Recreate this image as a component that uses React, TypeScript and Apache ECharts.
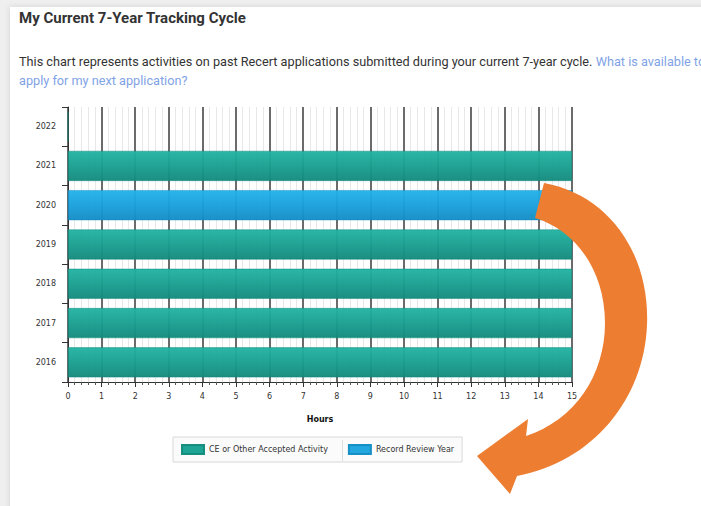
import React, { useEffect, useRef } from "react";
import * as echarts from "echarts";

const years = ["2016", "2017", "2018", "2019", "2020", "2021", "2022"];
const ceHours: (number | string)[] = [15, 15, 15, 15, "-", 15, 0];
const reviewHours: (number | string)[] = ["-", "-", "-", "-", 15, "-", "-"];
const seriesNames = ["CE or Other Accepted Activity", "Record Review Year"];
const titleText = "My Current 7-Year Tracking Cycle";
const descText =
  "This chart represents activities on past Recert applications submitted during your current 7-year cycle.";
const linkText1 = "What is available to";
const linkText2 = "apply for my next application?";

const arrowPath =
  "M 544 183 C 610 195 650 255 647 325 C 644 400 592 462 517 476 L 510 494 L 477 456 L 528 419 L 526 436 C 575 420 605 375 605 323 C 605 270 575 230 535 218 Z";

let registered = false;

export default function App() {
  const ref = useRef<HTMLDivElement>(null);
  useEffect(() => {
    if (!ref.current) return;
    if (!registered) {
      echarts.graphic.registerShape("logo", echarts.graphic.extendPath(arrowPath, {}) as any);
      registered = true;
    }
    const chart = echarts.init(ref.current, null, { renderer: "svg" });
    const teal = new echarts.graphic.LinearGradient(0, 0, 0, 1, [
      { offset: 0, color: "#22b3a3" },
      { offset: 0.5, color: "#199f90" },
      { offset: 1, color: "#128a7c" },
    ]);
    const blue = new echarts.graphic.LinearGradient(0, 0, 0, 1, [
      { offset: 0, color: "#22b2ea" },
      { offset: 0.5, color: "#19a0dc" },
      { offset: 1, color: "#138cc4" },
    ]);
    chart.setOption({
      animation: false,
      backgroundColor: "#efefef",
      graphic: [
        {
          type: "rect",
          shape: { x: 10, y: 7, width: 700, height: 510 },
          style: { fill: "#ffffff", shadowBlur: 6, shadowColor: "rgba(0,0,0,0.12)" },
          z: -10,
        },
        {
          type: "text",
          left: 19,
          top: 10,
          style: { text: titleText, font: "bold 15px Roboto", fill: "#333333" },
        },
        {
          type: "text",
          left: 19,
          top: 55,
          style: {
            text: "{d|" + descText + "} {l|" + linkText1 + "}",
            rich: {
              d: { fontFamily: "Roboto", fontSize: 12.7, fill: "#333333", color: "#333333" },
              l: { fontFamily: "Roboto", fontSize: 12.7, fill: "#7fa3e6", color: "#7fa3e6" },
            },
          },
        },
        {
          type: "text",
          left: 19,
          top: 74,
          style: { text: linkText2, font: "12.7px Roboto", fill: "#7fa3e6" },
        },
        {
          type: "line",
          shape: { x1: 342.5, y1: 440, x2: 342.5, y2: 461 },
          style: { stroke: "#dddddd", lineWidth: 1 },
          z: 100,
        },
        {
          type: "logo",
          x: 0,
          y: 0,
          style: { fill: "#ed7d31" },
          z: 200,
        },
      ],
      grid: { left: 68, top: 107, width: 504, height: 275, containLabel: false },
      legend: {
        left: 173,
        top: 437,
        orient: "horizontal",
        backgroundColor: "#fbfbfb",
        borderColor: "#d8d8d8",
        borderWidth: 1,
        padding: [7, 8, 7, 8],
        itemGap: 20,
        itemWidth: 22,
        itemHeight: 9,
        icon: "rect",
        textStyle: { fontFamily: "DejaVu Sans", fontSize: 8, color: "#333333" },
        data: [
          { name: seriesNames[0], itemStyle: { color: "#14a090" } },
          { name: seriesNames[1], itemStyle: { color: "#1ba3dd" } },
        ],
      },
      xAxis: {
        type: "value",
        min: 0,
        max: 15,
        interval: 1,
        name: "Hours",
        nameLocation: "middle",
        nameGap: 33,
        nameTextStyle: { fontFamily: "DejaVu Sans", fontSize: 8, fontWeight: "bold", color: "#111" },
        axisLine: { show: true, lineStyle: { color: "#333", width: 1 } },
        axisTick: { show: true, length: 5, lineStyle: { color: "#333" } },
        minorTick: { show: true, splitNumber: 5, length: 3, lineStyle: { color: "#555" } },
        axisLabel: { fontFamily: "DejaVu Sans", fontSize: 8, color: "#333", margin: 10 },
        splitLine: { show: true, lineStyle: { color: "#3a3a3a", width: 1.5 } },
        minorSplitLine: { show: true, lineStyle: { color: "#e8e8e8", width: 1 } },
      },
      yAxis: {
        type: "category",
        data: years,
        axisLine: { show: true, lineStyle: { color: "#333", width: 1 } },
        axisTick: { show: true, length: 6, lineStyle: { color: "#333" } },
        axisLabel: { fontFamily: "DejaVu Sans", fontSize: 8, color: "#333", margin: 12 },
        splitLine: { show: false },
      },
      series: [
        {
          name: seriesNames[0],
          type: "bar",
          stack: "h",
          barWidth: 30,
          data: ceHours,
          itemStyle: { color: teal, opacity: 0.96, borderColor: "#128a7c", borderWidth: 0.5 },
          z: 5,
        },
        {
          name: seriesNames[1],
          type: "bar",
          stack: "h",
          barWidth: 30,
          data: reviewHours,
          itemStyle: { color: blue, opacity: 0.96, borderColor: "#138cc4", borderWidth: 0.5 },
          z: 5,
        },
      ],
    });
    return () => chart.dispose();
  }, []);
  return (
    <div
      ref={ref}
      style={{ position: "fixed", left: 0, top: 0, width: 701, height: 506 }}
    />
  );
}
